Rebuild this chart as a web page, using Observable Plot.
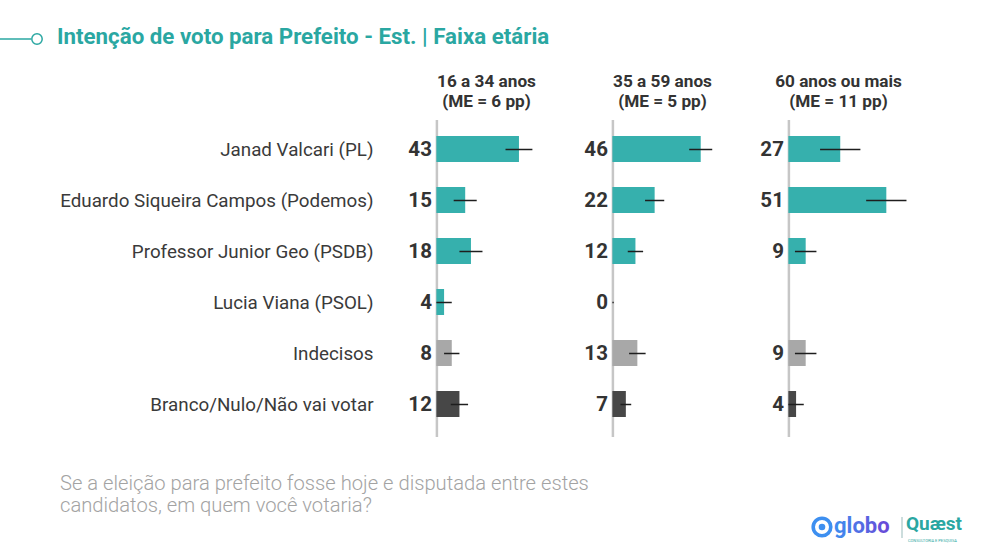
<!DOCTYPE html>
<html>
<head>
<meta charset="utf-8">
<script src="https://cdn.jsdelivr.net/npm/d3@7"></script>
<script src="https://cdn.jsdelivr.net/npm/@observablehq/plot@0.6"></script>
<style>
  html, body { margin: 0; padding: 0; background: #fff; }
  body { width: 984px; height: 558px; position: relative; overflow: hidden; font-family: Roboto, "Noto Sans", sans-serif; }
  #title { position: relative; height: 62px; }
  #title svg.deco { position: absolute; left: 0; top: 31px; }
  #title .t { position: absolute; left: 57px; top: 23px; font-size: 22.3px; font-weight: 700; color: #2aa7a2; white-space: nowrap; }
  #chart { height: 391px; }
  #footer { position: relative; height: 105px; }
  #footer .q { position: absolute; left: 60px; top: 19px; font-size: 20.2px; font-weight: 300; color: #a3a3a3; line-height: 22px; white-space: nowrap; }
  #logo { position: absolute; left: 810px; top: 511px; width: 172px; height: 34px; }
</style>
</head>
<body>
<div id="title">
  <svg class="deco" width="50" height="16"><line x1="0" y1="8" x2="31" y2="8" stroke="#2aa7a2" stroke-width="1.5"/><circle cx="37" cy="8" r="5.2" fill="#fff" stroke="#2aa7a2" stroke-width="1.5"/></svg>
  <div class="t">Intenção de voto para Prefeito - Est. | Faixa etária</div>
</div>
<div id="chart"></div>
<div id="footer">
  <div class="q">Se a eleição para prefeito fosse hoje e disputada entre estes<br>candidatos, em quem você votaria?</div>
</div>
<div id="logo">
  <svg width="172" height="34">
    <defs><linearGradient id="gg" x1="0" x2="1"><stop offset="0" stop-color="#3d8ff0"/><stop offset="1" stop-color="#6b46d6"/></linearGradient></defs>
    <circle cx="12" cy="16" r="8.8" fill="none" stroke="#3d8ff0" stroke-width="3.6"/>
    <circle cx="12" cy="16" r="3.3" fill="#3d8ff0"/>
    <text x="24" y="22" font-family="Roboto" font-weight="700" font-size="22" fill="url(#gg)">globo</text>
    <line x1="92" y1="6" x2="92" y2="27" stroke="#9bb" stroke-width="1"/>
    <text x="96" y="19" font-family="Roboto" font-weight="700" font-size="19" fill="#2aa7a2">Quæst</text>
    <text x="98" y="31" font-family="Roboto" font-size="4" fill="#2aa7a2">CONSULTORIA E PESQUISA</text>
  </svg>
</div>
<script>
const groups = ["16 a 34 anos", "35 a 59 anos", "60 anos ou mais"];
const groupMargins = ["(ME = 6 pp)", "(ME = 5 pp)", "(ME = 11 pp)"];
const candidates = [
  "Janad Valcari (PL)",
  "Eduardo Siqueira Campos (Podemos)",
  "Professor Junior Geo (PSDB)",
  "Lucia Viana (PSOL)",
  "Indecisos",
  "Branco/Nulo/Não vai votar"
];
const kinds = ["cand", "cand", "cand", "cand", "undecided", "blank"];
const values16to34 = [43, 15, 18, 4, 8, 12];
const values35to59 = [46, 22, 12, 0, 13, 7];
const values60plus = [27, 51, 9, null, 9, 4];
const errors16to34 = [7, 6, 6, 4, 4, 4.5];
const errors35to59 = [6, 5, 4, 0.7, 4.3, 2.8];
const errors60plus = [10.5, 10.5, 5.6, null, 5.6, 4];

const colors = {cand: "#36b0ad", undecided: "#a8a8a8", blank: "#474747"};

const seriesValues = [values16to34, values35to59, values60plus];
const seriesErrors = [errors16to34, errors35to59, errors60plus];
const rows = [];
groups.forEach((g, gi) => {
  candidates.forEach((c, ci) => {
    const v = seriesValues[gi][ci];
    if (v == null) return;
    rows.push({group: g, cand: c, kind: kinds[ci], value: v, err: seriesErrors[gi][ci]});
  });
});

const W = 984, H = 391;
const chart = Plot.plot({
  width: W,
  height: H,
  marginLeft: 397.6,
  marginRight: 58.4,
  marginTop: 47.7,
  marginBottom: 9.7,
  style: {fontFamily: "Roboto, 'Noto Sans', sans-serif", color: "#333"},
  fx: {domain: groups, padding: 0, axis: null},
  x: {domain: [-20, 71.67], axis: null},
  y: {domain: candidates, padding: 0.49, axis: null},
  marks: [
    Plot.ruleX([0], {stroke: "#c6c6c6", strokeWidth: 2.5, insetTop: 10.3, insetBottom: 6.3}),
    Plot.barX(rows, {fx: "group", y: "cand", x: "value", fill: d => colors[d.kind]}),
    Plot.ruleY(rows, {fx: "group", y: "cand", x1: d => Math.max(0, d.value - d.err), x2: d => d.value + d.err, stroke: "#1e1e1e", strokeWidth: 1.5}),
    Plot.text(rows, {fx: "group", y: "cand", x: 0, text: d => String(d.value), textAnchor: "end", dx: -5, fontWeight: 700, fontSize: 20.5, fill: "#333"}),
    Plot.text(groups, {fx: d => d, text: (d, i) => d + "\n" + groupMargins[i], frameAnchor: "top", lineAnchor: "bottom", dy: -3, fontWeight: 700, fontSize: 17.2, lineHeight: 1.16, fill: "#333"}),
    Plot.axisY({tickSize: 0, tickPadding: 25, fontSize: 18.8, label: null, fill: "#3a3a3a"})
  ]
});
document.getElementById("chart").appendChild(chart);
</script>
</body>
</html>
